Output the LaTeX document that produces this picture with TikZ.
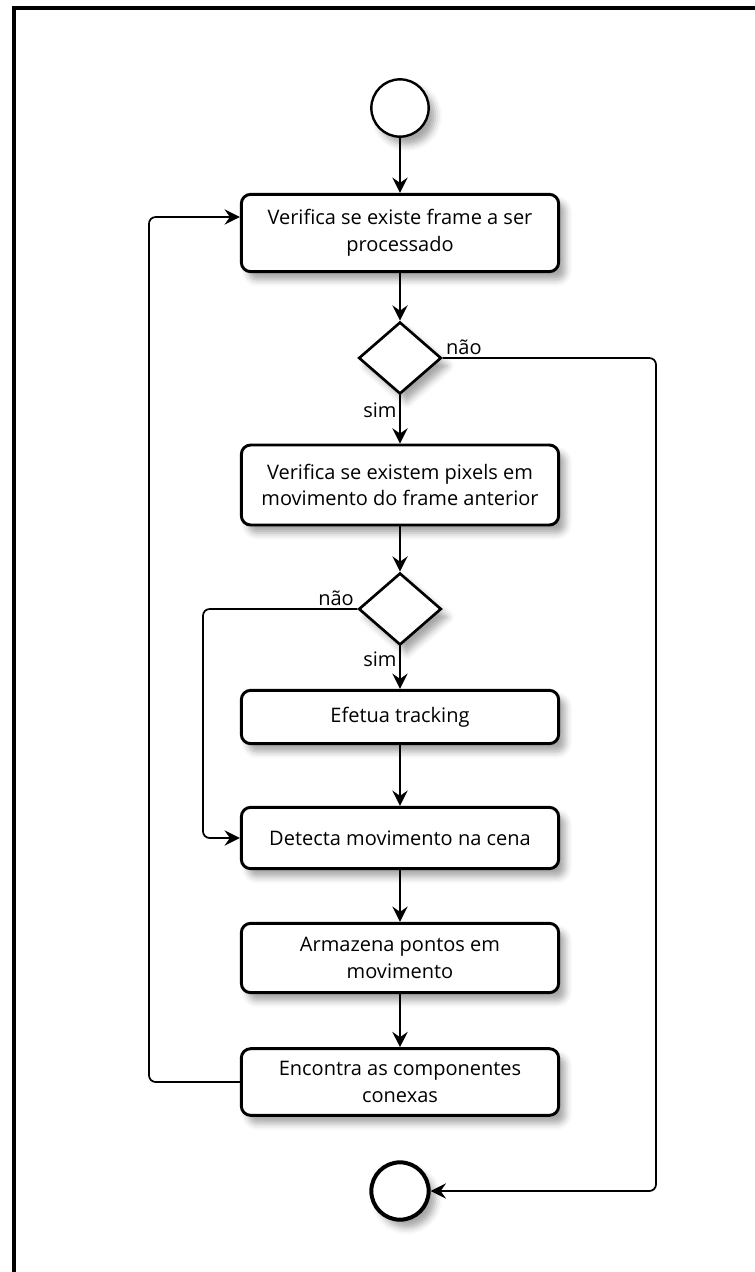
\documentclass[tikz,border=0pt]{standalone}
\usepackage{fontspec}
\setmainfont{Open Sans}
\usetikzlibrary{arrows.meta, shapes.geometric, shadows.blur}
\tikzset{
  x=0.75pt, y=-0.75pt, % one unit is one pixel of the sketch, y grows downwards
  >={Stealth[length=11.5pt, width=11.5pt, inset=4pt]}, % heavy arrow heads
  soft shadow/.style={blur shadow={shadow xshift=5pt, shadow yshift=-6pt,
      shadow blur radius=5pt, shadow opacity=35}}, % grey shadow of the shapes
}

\begin{document}
\begin{tikzpicture}[
    activity/.style = {draw, line width=2.2pt, rounded corners=7pt, fill=white,
      minimum width=238pt, align=center, soft shadow,
      font=\fontsize{15}{20}\selectfont},
    choice/.style = {draw, diamond, line width=2pt, fill=white, inner sep=0pt,
      minimum width=62pt, minimum height=54pt, soft shadow},
    terminal/.style = {draw, circle, fill=white, inner sep=0pt,
      minimum size=43pt, soft shadow},
    flow/.style = {->, line width=1.3pt},
    lbl/.style = {font=\fontsize{15}{17}\selectfont, inner sep=2pt}]

    \useasboundingbox (0,0) rectangle (755,1272);
    % frame round the sheet
    \draw[line width=3pt] (14,1272) -- (14,8) -- (755,8);

    \node[terminal, line width=1.8pt] (start) at (400,108) {};
    \node[activity, minimum height=58pt] (frame) at (400,233)
      {Verifica se existe frame a ser\\processado};
    \node[choice] (hasframe) at (400,358) {};
    \node[activity, minimum height=60pt] (pixels) at (400,485)
      {Verifica se existem pixels em\\movimento do frame anterior};
    \node[choice] (haspixels) at (400,609) {};
    \node[activity, minimum height=40pt] (tracking) at (400,717) {Efetua tracking};
    \node[activity, minimum height=46pt] (detect) at (400,838)
      {Detecta movimento na cena};
    \node[activity, minimum height=52pt] (store) at (400,958)
      {Armazena pontos em\\movimento};
    \node[activity, minimum height=50pt] (components) at (400,1082)
      {Encontra as componentes\\conexas};
    \node[terminal, line width=3pt] (stop) at (400,1191) {};

    \coordinate (rightway) at (656,358);
    \coordinate (innerway) at (203,609);
    \coordinate (backway) at (149,1082);

    \draw[flow] (start) -- (frame);
    \draw[flow] (frame) -- (hasframe);
    \draw[flow] (hasframe) -- node[lbl, left, pos=0.3] {sim} (pixels);
    \draw[flow, rounded corners=5pt] (hasframe.east)
      -- node[lbl, above right, pos=0] {não} (rightway) |- (stop.east);
    \draw[flow] (pixels) -- (haspixels);
    \draw[flow] (haspixels) -- node[lbl, left, pos=0.3] {sim} (tracking);
    \draw[flow, rounded corners=5pt] (haspixels.west)
      -- node[lbl, above left, pos=0] {não} (innerway) |- (detect.west);
    \draw[flow] (tracking) -- (detect);
    \draw[flow] (detect) -- (store);
    \draw[flow] (store) -- (components);
    \draw[flow, rounded corners=5pt] (components.west)
      -- (backway) |- ([yshift=12pt]frame.west);
  \end{tikzpicture}
\end{document}
